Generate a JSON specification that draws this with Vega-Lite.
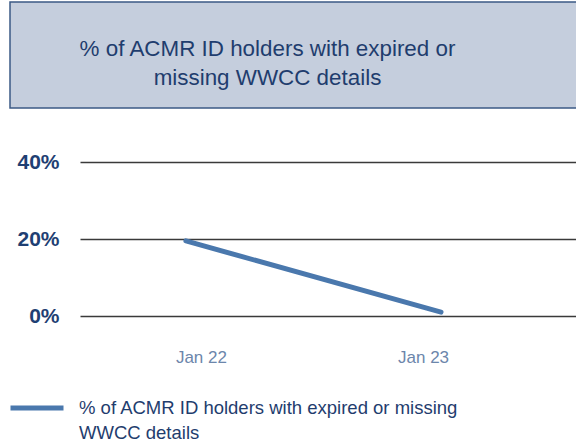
{
  "$schema": "https://vega.github.io/schema/vega-lite/v6.json",
  "padding": {"left": 8, "top": 1, "right": 0, "bottom": 0},
  "autosize": {"type": "pad"},
  "background": "white",
  "config": {
    "font": "Liberation Sans",
    "style": {"guide-label": {"lineHeight": 25}}
  },
  "spacing": 42,
  "vconcat": [
    {
      "width": 567,
      "height": 106,
      "view": {"fill": "#C5CEDD", "stroke": "#3B5A85", "strokeWidth": 1.5},
      "data": {"values": [{"t": "% of ACMR ID holders with expired or\nmissing WWCC details"}]},
      "mark": {
        "type": "text",
        "lineBreak": "\n",
        "font": "Liberation Sans",
        "fontSize": 22.4,
        "lineHeight": 29,
        "color": "#1F3D6E",
        "align": "center",
        "baseline": "middle",
        "dx": -26,
        "dy": -6
      },
      "encoding": {"text": {"field": "t", "type": "nominal"}}
    },
    {
      "width": 568,
      "height": 154,
      "view": {"stroke": null},
      "data": {
        "values": [
          {"period": "Jan 22", "value": 0.195, "series": "% of ACMR ID holders with expired or missing WWCC details"},
          {"period": "Jan 23", "value": 0.01, "series": "% of ACMR ID holders with expired or missing WWCC details"}
        ]
      },
      "mark": {"type": "line", "strokeWidth": 5, "strokeCap": "round"},
      "encoding": {
        "x": {
          "field": "period",
          "type": "ordinal",
          "sort": null,
          "scale": {"type": "point", "padding": 0.476, "align": 0.436, "range": [70, 568]},
          "axis": {
            "title": null,
            "labelAngle": 0,
            "domain": false,
            "ticks": false,
            "grid": false,
            "labelPadding": 33,
            "labelFontSize": 17,
            "labelColor": "#6C86AB",
            "labelFont": "Liberation Sans",
            "labelOffset": {"condition": {"test": "datum.value == 'Jan 22'", "value": 15}, "value": -18}
          }
        },
        "y": {
          "field": "value",
          "type": "quantitative",
          "scale": {"domain": [0, 0.4], "nice": false},
          "axis": {
            "title": null,
            "values": [0, 0.2, 0.4],
            "format": ".0%",
            "domain": false,
            "ticks": false,
            "grid": true,
            "gridColor": "#3A3A3A",
            "gridWidth": 1.5,
            "offset": -70,
            "labelPadding": 21,
            "labelFontSize": 21,
            "labelFontWeight": "bold",
            "labelColor": "#1F3F73",
            "labelFont": "Liberation Sans"
          }
        },
        "color": {
          "field": "series",
          "type": "nominal",
          "scale": {"range": ["#4A78AD"]},
          "legend": {
            "title": null,
            "orient": "none",
            "legendX": -2,
            "legendY": 377,
            "direction": "vertical",
            "symbolType": "stroke",
            "symbolSize": 2809,
            "symbolStrokeWidth": 5,
            "labelOffset": 13,
            "labelFontSize": 18.5,
            "labelColor": "#1F3D6E",
            "labelFont": "Liberation Sans",
            "labelLimit": 0,
            "labelBaseline": "middle",
            "padding": 0,
            "labelExpr": "['% of ACMR ID holders with expired or missing', 'WWCC details']"
          }
        }
      }
    }
  ]
}
